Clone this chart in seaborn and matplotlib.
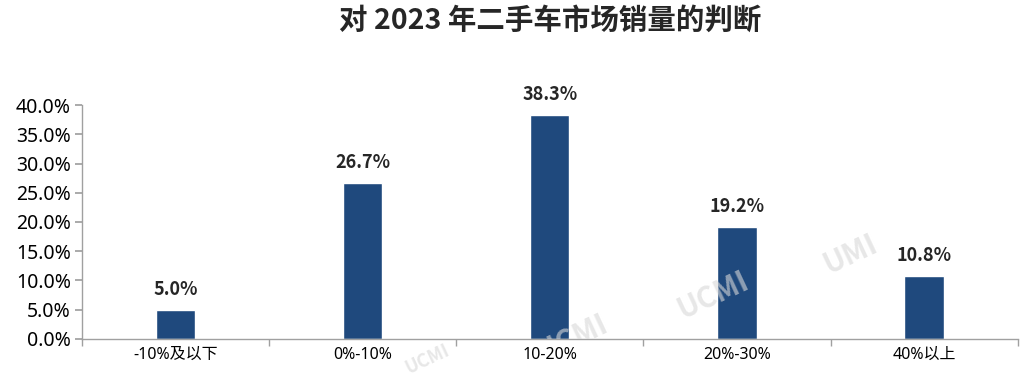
import numpy as np
import pandas as pd
import seaborn as sns
import matplotlib.pyplot as plt
from matplotlib.ticker import FuncFormatter

# data
categories = ["-10%及以下", "0%-10%", "10-20%", "20%-30%", "40%以上"]
shares = [5.0, 26.7, 38.3, 19.2, 10.8]
title = "对 2023 年二手车市场销量的判断"

df = pd.DataFrame({"category": categories, "share": shares})

sns.set_theme(style="white")
plt.rcParams["font.family"] = ["Noto Sans", "Noto Sans CJK SC", "DejaVu Sans"]
bold_fam = ["Noto Sans CJK SC", "DejaVu Sans"]

fig = plt.figure(figsize=(10.29, 3.82), dpi=100)
ax = fig.add_axes([0.0797, 0.1126, 0.9093, 0.6125])

sns.barplot(data=df, x="category", y="share", color="#1F497D",
            saturation=1, width=0.21, ax=ax)

ax.set_ylim(0, 40)
ax.set_xlim(-0.5, len(categories) - 0.5)
ax.set_yticks(np.arange(0, 40.1, 5))
ax.yaxis.set_major_formatter(FuncFormatter(lambda v, _: f"{v:.1f}%"))
ax.tick_params(axis="y", labelsize=14, length=5, color="#A0A0A0",
               left=True, pad=3, labelcolor="black")
ax.set_xticks(range(len(categories)))
ax.set_xticklabels(categories)
ax.tick_params(axis="x", labelsize=11.5, length=0, pad=6, labelcolor="black")
# tick marks between categories
ax.set_xticks(np.arange(-0.5, len(categories)), minor=True)
ax.tick_params(axis="x", which="minor", length=5, color="#A0A0A0", bottom=True)

ax.set_xlabel("")
ax.set_ylabel("")
for side in ["top", "right"]:
    ax.spines[side].set_visible(False)
for side in ["left", "bottom"]:
    ax.spines[side].set_color("#A0A0A0")
    ax.spines[side].set_linewidth(1)

for i, v in enumerate(shares):
    ax.annotate(f"{v:.1f}%", (i, v), xytext=(0, 8), textcoords="offset points",
                ha="center", va="bottom", fontsize=13, fontweight="bold",
                family=bold_fam)

fig.text(0.535, 0.945, title, ha="center", va="center", fontsize=20.5,
         fontweight="bold", family=bold_fam)

# watermarks (semi-transparent, over the bars)
wm = dict(ha="center", va="center", fontweight="bold", family=bold_fam,
          color="#D8D8D8", alpha=0.6, rotation=25, zorder=5)
fig.text(0.693, 0.228, "UCMI", fontsize=21, **wm)
fig.text(0.826, 0.335, "UMI", fontsize=21, **wm)
t = fig.text(0.556, 0.115, "UCMI", fontsize=21, **wm)
t.set_clip_box(ax.bbox)
t.set_clip_on(True)
fig.text(0.415, 0.06, "UCMI", fontsize=13, **wm)

fig.savefig("out.png", dpi=100)
